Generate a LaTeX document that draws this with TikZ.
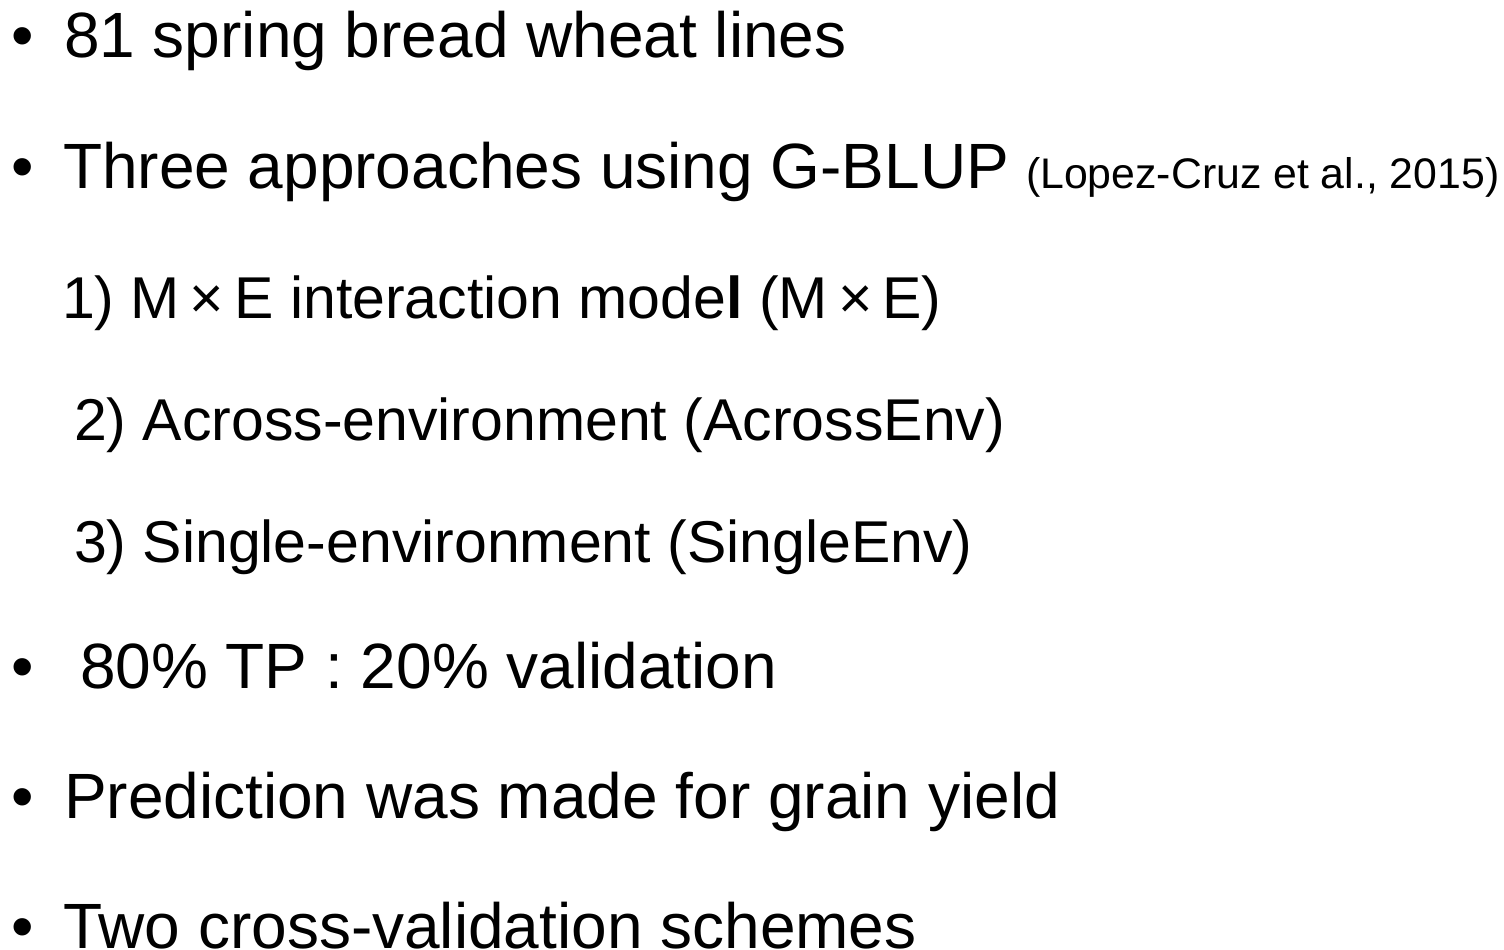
\documentclass[tikz,border=0pt]{standalone}
\usepackage{fontspec}
\setmainfont{Liberation Sans}
\begin{document}
\begin{tikzpicture}[x=1pt,y=-1pt,
  txt/.style={anchor=base west, inner sep=0pt, outer sep=0pt, text=black},
  mainline/.style={txt, font=\fontsize{64}{70}\selectfont},
  subline/.style={txt, font=\fontsize{59}{66}\selectfont},
  citeline/.style={txt, font=\fontsize{42.8}{46}\selectfont},
  bulletmark/.style={txt, font=\fontsize{64}{70}\selectfont}]
\useasboundingbox[fill=white] (0,0) rectangle (1504,950);
% bullets
\node[bulletmark] (b1) at (11.5,58) {•};
\node[bulletmark] (b2) at (11.5,188) {•};
\node[bulletmark] (b6) at (11.5,688) {•};
\node[bulletmark] (b7) at (11.5,818) {•};
\node[bulletmark] (b8) at (11.5,948) {•};
% lines
\node[mainline] (l1) at (64,58) {81 spring bread wheat lines};
\node[mainline] (l2) at (63,188) {Three approaches using G-BLUP};
\node[citeline] (cite) at (1026,188) {(Lopez-Cruz et al., 2015)};
\node[subline] (l3) at (62,318) {1) M\hspace{0.17em}×\hspace{0.17em}E interaction mode\textbf{l} (M\hspace{0.17em}×\hspace{0.17em}E)};
\node[subline] (l4) at (74,440) {2) Across-environment (AcrossEnv)};
\node[subline] (l5) at (74,562) {3) Single-environment (SingleEnv)};
\node[mainline] (l6) at (80,688) {80\% TP : 20\% validation};
\node[mainline] (l7) at (64,818) {Prediction was made for grain yield};
\node[mainline] (l8) at (63,948) {Two cross-validation schemes};
\end{tikzpicture}
\end{document}
